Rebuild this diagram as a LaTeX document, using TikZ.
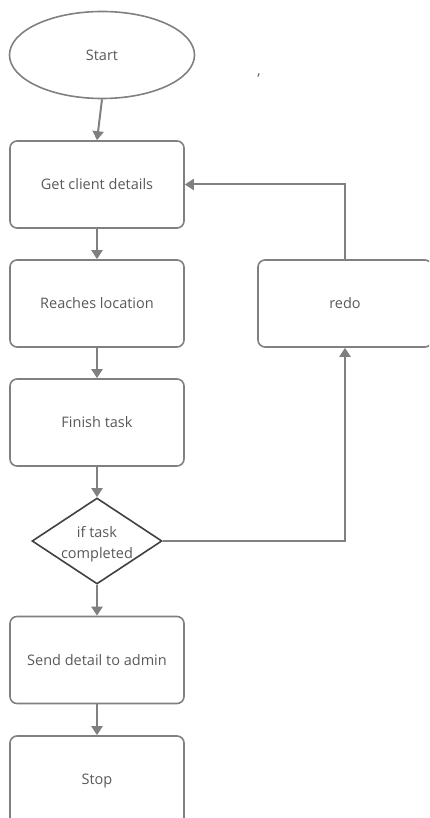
\documentclass[tikz,border=0pt]{standalone}
\usepackage{fontspec}
\setmainfont{Open Sans}
\usetikzlibrary{arrows.meta,shapes.geometric}
\definecolor{lineg}{HTML}{808080}
\definecolor{textg}{HTML}{595959}
\definecolor{dia}{HTML}{404040}
\begin{document}
\begin{tikzpicture}[x=1pt,y=-1pt,
  every node/.style={font=\fontsize{14.5}{21}\selectfont, text=textg},
  procbox/.style={draw=lineg, line width=1.6pt, rounded corners=7pt, minimum width=174pt, minimum height=87pt, inner sep=0pt},
  conn/.style={draw=lineg, line width=2pt, -{Triangle[width=11pt,length=9pt]}}]
\useasboundingbox (0,0) rectangle (429,818);
\clip (0,0) rectangle (429,818);
\node[draw=lineg, line width=1.6pt, ellipse, minimum width=185pt, minimum height=87pt, inner sep=0pt] (start) at (102,55) {Start};
\node (comma) at (259,76) {,};
\node[procbox] (get) at (97,184.5) {Get client details};
\node[procbox] (reach) at (97,303.5) {Reaches location};
\node[procbox] (finish) at (97,422.5) {Finish task};
\node[draw=dia, line width=1.6pt, diamond, aspect=1.5, minimum width=130pt, minimum height=86pt, inner sep=0pt] (dec) at (97,541) {};
\node[align=center] (dectext) at ([yshift=-3pt]dec.center) {if task\\completed};
\node[procbox] (send) at (97,660) {Send detail to admin};
\node[procbox, minimum height=90pt] (stop) at (97,781) {Stop};
\node[procbox] (redo) at (345,303.5) {redo};
\draw[conn] (start.south) -- (get.north);
\draw[conn] (get) -- (reach);
\draw[conn] (reach) -- (finish);
\draw[conn] (finish) -- (dec.north);
\draw[conn] (dec.south) -- (send);
\draw[conn] (send) -- (stop);
\draw[conn] (dec.east) -| (redo.south);
\draw[conn] (redo.north) |- (get.east);
\end{tikzpicture}
\end{document}
